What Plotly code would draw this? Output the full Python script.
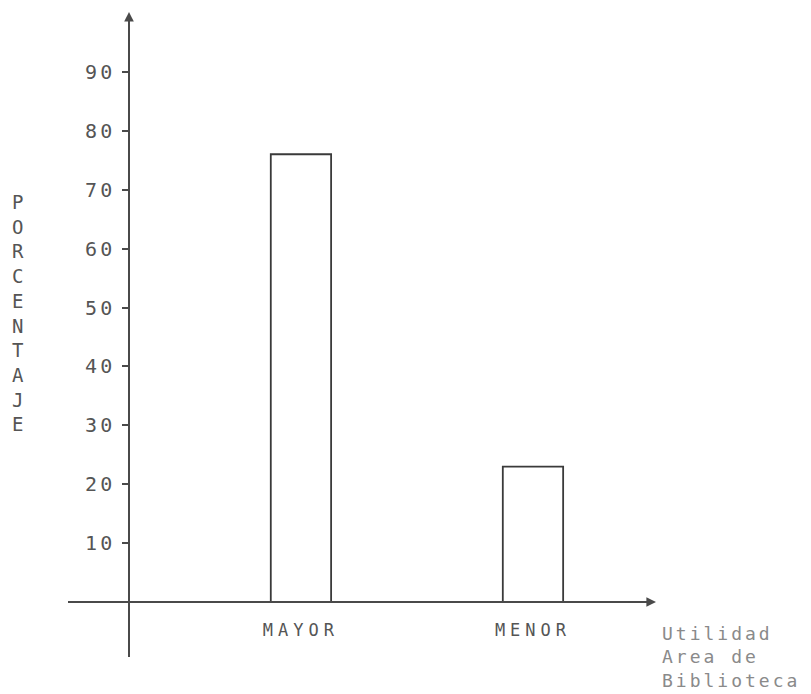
import plotly.graph_objects as go

CATEGORIES = ["MAYOR", "MENOR"]
VALUES = [76, 23]
TICK_VALUES = [10, 20, 30, 40, 50, 60, 70, 80, 90]
TICK_LABELS = [str(v) for v in TICK_VALUES]
Y_TITLE = "PORCENTAJE"
X_TITLE_LINES = ["Utilidad", "Area de", "Biblioteca"]

W, H = 811, 694
OFF = 8  # page body margin
AX = "#4a4a4a"
TXT = "#555555"
MONO = "DejaVu Sans Mono"


def fx(p):
    return (p - OFF) / W


def fy(p):
    return (H - (p - OFF)) / H


def spaced(s, px):
    return f'<span style="letter-spacing:{px}px">{s}</span>'


fig = go.Figure()
fig.add_trace(go.Bar(
    x=CATEGORIES, y=VALUES, width=0.26,
    marker=dict(color="white", line=dict(color="#3a3a3a", width=1.8)),
    hoverinfo="x+y",
))

fig.update_layout(
    width=W, height=H,
    margin=dict(l=0, r=0, t=0, b=0, autoexpand=False),
    paper_bgcolor="white", plot_bgcolor="white",
    showlegend=False,
    xaxis=dict(
        domain=[fx(68), fx(652)],
        range=[-1.004, 1.513],
        anchor="free", position=fy(602),
        automargin=False,
        showline=True, linecolor=AX, linewidth=1.6,
        showgrid=False, zeroline=False,
        ticks="", tickmode="array", tickvals=CATEGORIES,
        ticktext=[spaced(c, 5) for c in CATEGORIES],
        tickfont=dict(family=MONO, size=17, color=TXT),
        ticklabelstandoff=13,
    ),
    yaxis=dict(
        domain=[fy(657), fy(14)],
        range=[-9.30, 99.80],
        anchor="free", position=fx(129),
        automargin=False,
        showline=True, linecolor=AX, linewidth=1.6,
        showgrid=False, zeroline=False,
        ticks="outside", ticklen=6, tickwidth=1.6, tickcolor=AX,
        tickmode="array", tickvals=TICK_VALUES,
        ticktext=[spaced(t, 3) for t in TICK_LABELS],
        tickfont=dict(family=MONO, size=20, color=TXT),
        ticklabelstandoff=3,
    ),
)

# arrowheads at the ends of the axes
fig.add_annotation(xref="paper", yref="paper", x=fx(129), y=fy(12),
                   ax=0, ay=30, showarrow=True, arrowhead=2, arrowsize=1.2,
                   arrowwidth=1.6, arrowcolor=AX, text="")
fig.add_annotation(xref="paper", yref="paper", x=fx(656), y=fy(602),
                   ax=-30, ay=0, showarrow=True, arrowhead=2, arrowsize=1.2,
                   arrowwidth=1.6, arrowcolor=AX, text="")

# vertical axis title, one letter per line
fig.add_annotation(xref="paper", yref="paper", x=fx(18), y=fy(313),
                   xanchor="center", yanchor="middle", showarrow=False,
                   text="<br>".join(Y_TITLE),
                   font=dict(family=MONO, size=19, color=TXT))

# horizontal axis title
fig.add_annotation(xref="paper", yref="paper", x=fx(660), y=fy(657),
                   xanchor="left", yanchor="middle", showarrow=False, align="left",
                   text="<br>".join(spaced(s, 3) for s in X_TITLE_LINES),
                   font=dict(family=MONO, size=18, color="#8a8a8a"))

fig.write_html("out.html")
